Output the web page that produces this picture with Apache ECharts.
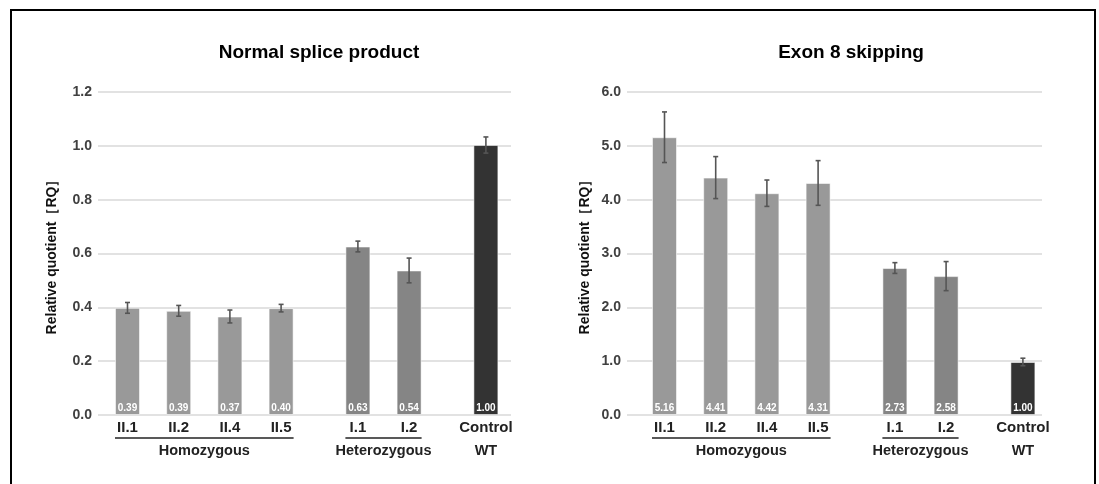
<!DOCTYPE html>
<html>
<head>
<meta charset="utf-8">
<script src="https://cdn.jsdelivr.net/npm/echarts@6/dist/echarts.min.js"></script>
<style>
html,body{margin:0;padding:0;background:#fff;}
#c{width:1099px;height:484px;}
</style>
</head>
<body>
<div id="c"></div>
<script>
// ---- data ----
var categories = ['II.1','','II.2','','II.4','','II.5','','','I.1','','I.2','','','Control'];
var samples = ['II.1','II.2','II.4','II.5','I.1','I.2','Control'];
var sampleGroup = ['hom','hom','hom','hom','het','het','wt'];

var normalTitle = 'Normal splice product';
var normalValues = [0.398, 0.387, 0.366, 0.397, 0.626, 0.537, 1.003];
var normalErrors = [0.020, 0.020, 0.024, 0.014, 0.020, 0.046, 0.030];
var normalLabels = ['0.39','0.39','0.37','0.40','0.63','0.54','1.00'];
var normalTicks = [0, 1.2, 0.2];

var skipTitle = 'Exon 8 skipping';
var skipValues = [5.16, 4.41, 4.12, 4.31, 2.73, 2.58, 0.985];
var skipErrors = [0.47, 0.39, 0.245, 0.415, 0.10, 0.27, 0.07];
var skipLabels = ['5.16','4.41','4.42','4.31','2.73','2.58','1.00'];
var skipTicks = [0, 6, 1];

var groupNames = ['Homozygous','Heterozygous','WT'];
var groupFirst = ['II.1','I.1','Control'];
var groupLast = ['II.5','I.2','Control'];
var groupLine = [true, true, false];

var yName = 'Relative quotient［RQ］';

// ---- styles ----
var FONT = '"Liberation Sans", Arial, sans-serif';
var colors = {hom:'#999999', het:'#858585', wt:'#333333'};

var chart = echarts.init(document.getElementById('c'));

function barData(values, labels){
  return samples.map(function(s,i){
    return {value:[categories.indexOf(s), values[i]], label:{formatter:labels[i]},
      itemStyle:{color:colors[sampleGroup[i]]}};
  });
}
function errData(values, errs){
  return samples.map(function(s,i){
    return [categories.indexOf(s), values[i]-errs[i], values[i]+errs[i]];
  });
}
function groupData(){
  return groupNames.map(function(g,i){
    return [categories.indexOf(groupFirst[i]), categories.indexOf(groupLast[i]), g, groupLine[i]?1:0];
  });
}

function errRender(params, api){
  var x = api.value(0);
  var lo = api.coord([x, api.value(1)]);
  var hi = api.coord([x, api.value(2)]);
  var cap = 2.5;
  var st = {stroke:'#555555', lineWidth:1.6};
  return {type:'group', children:[
    {type:'line', shape:{x1:lo[0],y1:lo[1],x2:hi[0],y2:hi[1]}, style:st},
    {type:'line', shape:{x1:lo[0]-cap,y1:lo[1],x2:lo[0]+cap,y2:lo[1]}, style:st},
    {type:'line', shape:{x1:hi[0]-cap,y1:hi[1],x2:hi[0]+cap,y2:hi[1]}, style:st}
  ]};
}
function groupRender(params, api){
  var a = api.coord([api.value(0), 0]);
  var b = api.coord([api.value(1), 0]);
  var half = 12.5;
  var children = [];
  if (api.value(3)) {
    children.push({type:'line', shape:{x1:a[0]-half, y1:a[1]+23, x2:b[0]+half, y2:a[1]+23},
      style:{stroke:'#222222', lineWidth:1.3}});
  }
  children.push({type:'text', x:(a[0]+b[0])/2, y:a[1]+36,
    style:{text:api.value(2), textAlign:'center', textVerticalAlign:'middle',
      font:'bold 14.5px ' + FONT, fill:'#222222'}});
  return {type:'group', children:children};
}

var T = 92, H = 323;
var grids = [
  {left:98, top:T, width:413, height:H},
  {left:114.7, top:T, width:384, height:H},
  {left:627, top:T, width:415, height:H},
  {left:651.7, top:T, width:384, height:H}
];

function yAxisVisible(gi, ticks, gap){
  return {type:'value', gridIndex:gi, min:ticks[0], max:ticks[1], interval:ticks[2],
    axisLine:{show:false}, axisTick:{show:false},
    axisLabel:{margin:6, color:'#404040', fontSize:14, fontWeight:'bold', fontFamily:FONT,
      formatter:function(v){return v.toFixed(1);}},
    splitLine:{lineStyle:{color:'#d9d9d9', width:1.5}},
    name:yName, nameLocation:'middle', nameRotate:90, nameGap:gap,
    nameTextStyle:{color:'#111111', fontSize:14, fontWeight:'bold', fontFamily:FONT}};
}
function yAxisHidden(gi, ticks){
  return {type:'value', gridIndex:gi, min:ticks[0], max:ticks[1], interval:ticks[2], show:false,
    splitLine:{show:false}};
}
function xAxisHidden(gi){
  return {type:'category', gridIndex:gi, data:[''], show:false};
}
function xAxisBars(gi){
  return {type:'category', gridIndex:gi, data:categories,
    axisLine:{show:false}, axisTick:{show:false},
    axisLabel:{interval:0, margin:5, color:'#222222', fontSize:15, fontWeight:'bold', fontFamily:FONT}};
}
function barSeries(ax, values, labels){
  return {type:'bar', xAxisIndex:ax, yAxisIndex:ax, barWidth:25, data:barData(values, labels),
    itemStyle:{borderColor:'rgba(255,255,255,0.55)', borderWidth:1},
    label:{show:true, position:'insideBottom', distance:2, color:'#ffffff', fontSize:10,
      fontWeight:'bold', fontFamily:FONT},
    silent:true, animation:false};
}
function errSeries(ax, values, errs){
  return {type:'custom', xAxisIndex:ax, yAxisIndex:ax, renderItem:errRender,
    data:errData(values, errs), z:5, silent:true, animation:false};
}
function grpSeries(ax){
  return {type:'custom', xAxisIndex:ax, yAxisIndex:ax, renderItem:groupRender,
    data:groupData(), clip:false, silent:true, animation:false};
}

chart.setOption({
  animation:false,
  backgroundColor:'#ffffff',
  grid:grids,
  xAxis:[xAxisHidden(0), xAxisBars(1), xAxisHidden(2), xAxisBars(3)],
  yAxis:[yAxisVisible(0, normalTicks, 39), yAxisHidden(1, normalTicks),
         yAxisVisible(2, skipTicks, 35), yAxisHidden(3, skipTicks)],
  series:[
    barSeries(1, normalValues, normalLabels), errSeries(1, normalValues, normalErrors), grpSeries(1),
    barSeries(3, skipValues, skipLabels), errSeries(3, skipValues, skipErrors), grpSeries(3)
  ],
  graphic:[
    {type:'rect', shape:{x:11, y:10, width:1084, height:490}, style:{fill:null, stroke:'#000000', lineWidth:2}, silent:true},
    {type:'text', x:319, y:53, style:{text:normalTitle, textAlign:'center', textVerticalAlign:'middle',
      font:'bold 19px ' + FONT, fill:'#000000'}},
    {type:'text', x:851, y:53, style:{text:skipTitle, textAlign:'center', textVerticalAlign:'middle',
      font:'bold 19px ' + FONT, fill:'#000000'}}
  ]
});
</script>
</body>
</html>
